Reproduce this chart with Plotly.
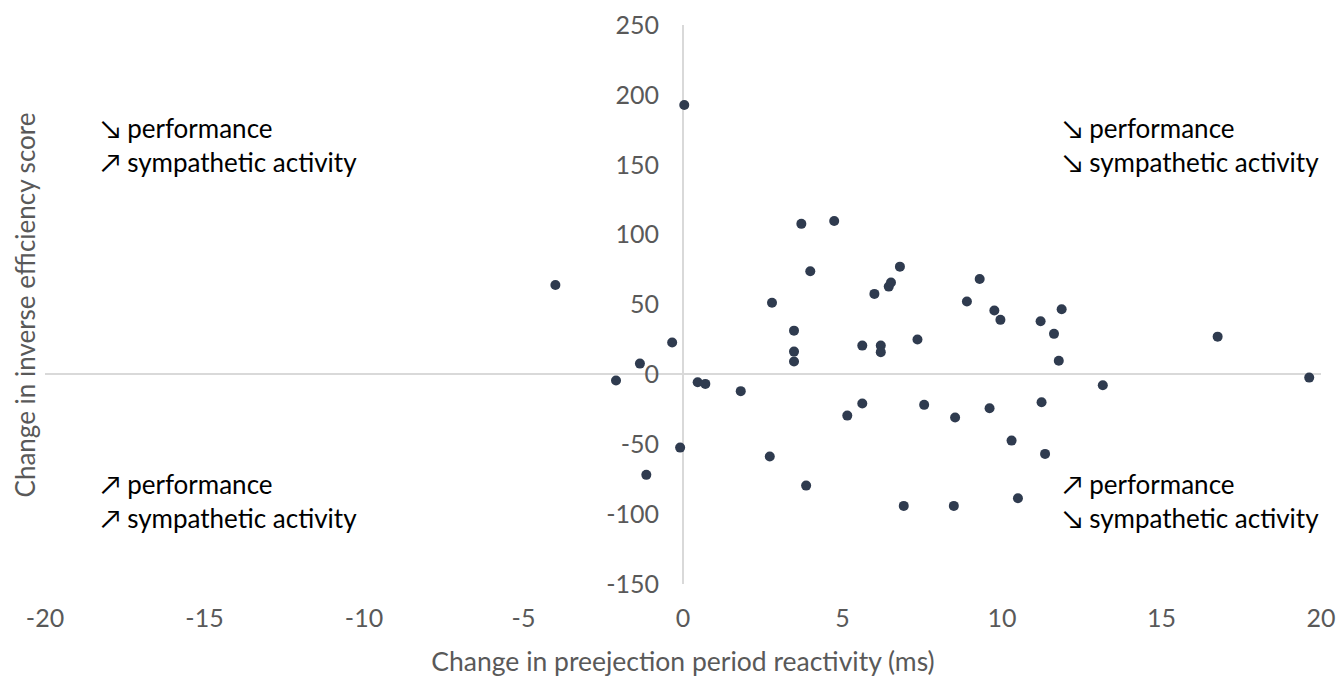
import plotly.graph_objects as go

# Data
pep_change = [0.04, -4.0, 3.71, 4.74, 3.99, 2.79, 6.0, 6.45, 6.52, 6.8,
              9.3, 8.9, 9.76, 9.95, 7.35, 11.21, 11.87, 11.63, 11.78, 16.76,
              19.63, 13.16, 7.56, 8.53, 9.61, 11.24, 3.48, 3.48, 3.48, 5.62,
              6.2, 6.2, -0.34, -1.35, -2.1, 0.46, 0.7, 1.81, 5.62, 5.15,
              -0.09, 2.72, -1.15, 3.86, 6.92, 8.49, 10.3, 11.35, 10.5]
ies_change = [192.7, 64.0, 107.7, 109.8, 73.8, 51.2, 57.6, 62.8, 65.7, 77.1,
              68.3, 52.1, 45.7, 39.0, 24.9, 38.0, 46.6, 29.0, 9.7, 27.0,
              -2.3, -7.8, -21.8, -30.9, -24.2, -19.9, 31.3, 16.3, 9.2, 20.6,
              20.6, 15.9, 22.8, 7.7, -4.4, -5.6, -6.8, -12.0, -20.9, -29.5,
              -52.4, -58.8, -71.9, -79.6, -94.1, -94.1, -47.4, -56.9, -88.6]

x_ticks = [-20, -15, -10, -5, 0, 5, 10, 15, 20]
x_tick_labels = ["-20", "-15", "-10", "-5", "0", "5", "10", "15", "20"]
y_ticks = [-150, -100, -50, 0, 50, 100, 150, 200, 250]
y_tick_labels = ["-150", "-100", "-50", "0", "50", "100", "150", "200", "250"]

quadrant_labels = [
    ("\u2198 performance<br>\u2197 sympathetic activity", -18.3, 163.8),
    ("\u2198 performance<br>\u2198 sympathetic activity", 11.85, 163.8),
    ("\u2197 performance<br>\u2197 sympathetic activity", -18.3, -90.8),
    ("\u2197 performance<br>\u2198 sympathetic activity", 11.85, -90.8),
]

FONT = "Lato"
GRAY = "#595959"
LINE = "#d9d9d9"

fig = go.Figure()
fig.add_trace(go.Scatter(
    x=pep_change, y=ies_change, mode="markers",
    marker=dict(size=10, color="#2F3B4F"),
    showlegend=False,
))

for text, ax, ay in quadrant_labels:
    fig.add_annotation(
        x=ax, y=ay, xref="x", yref="y", text=text, showarrow=False,
        xanchor="left", yanchor="middle", align="left",
        font=dict(family=FONT, size=26, color="#000000"),
    )

fig.add_annotation(
    x=-0.0157, y=0.5, xref="paper", yref="paper", xanchor="center", yanchor="middle",
    text="Change in inverse efficiency score", textangle=-90, showarrow=False,
    font=dict(family=FONT, size=26, color=GRAY),
)

fig.update_layout(
    width=1340, height=677,
    margin=dict(l=45, r=19, t=25, b=93, autoexpand=False),
    paper_bgcolor="white", plot_bgcolor="white",
    font=dict(family=FONT, color=GRAY),
    xaxis=dict(
        range=[-20, 20], tickvals=x_ticks, ticktext=x_tick_labels, showgrid=False,
        zeroline=True, zerolinecolor=LINE, zerolinewidth=1.5, automargin=False,
        showline=False, ticks="", ticklabelstandoff=17,
        tickfont=dict(family=FONT, size=25, color=GRAY),
        title=dict(text="Change in preejection period reactivity (ms)",
                   font=dict(family=FONT, size=26.5, color=GRAY), standoff=28),
    ),
    yaxis=dict(
        range=[-150, 250], tickvals=y_ticks, ticktext=y_tick_labels, showgrid=False,
        zeroline=True, zerolinecolor=LINE, zerolinewidth=1.5, automargin=False,
        anchor="free", position=0.5, showline=False, ticks="",
        ticklabelstandoff=24,
        tickfont=dict(family=FONT, size=25, color=GRAY),
    ),
)

fig.write_html(
    "out.html",
    config={"displayModeBar": False},
    post_script="document.body.style.margin='0';document.body.style.overflow='hidden';",
)
